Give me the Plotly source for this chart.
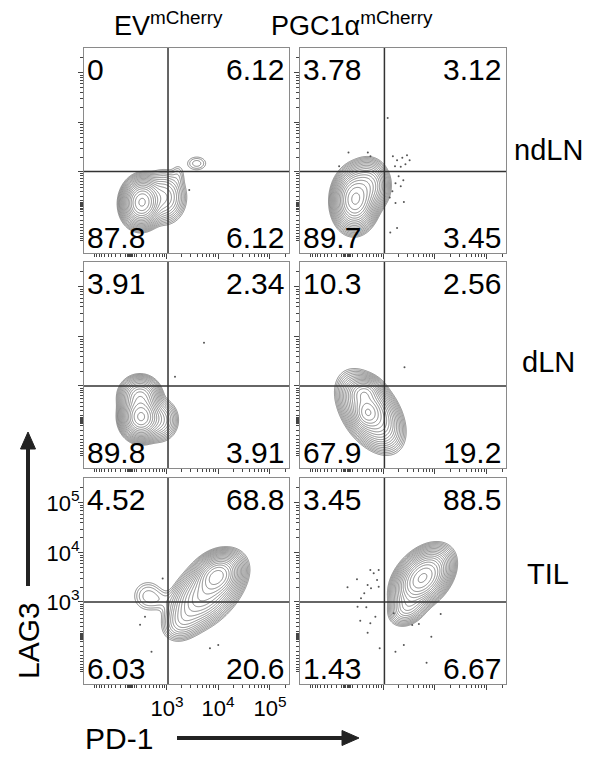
import numpy as np
import plotly.graph_objects as go

# ------------------------------------------------------------------ data
C = 210.0  # biexponential width parameter of the display


def biex(v):
    v = np.asarray(v, dtype=float)
    return np.log10(C) + np.arcsinh(v / (2 * C)) / np.log(10)


CONDITIONS = ["EV<sup>mCherry</sup>", "PGC1α<sup>mCherry</sup>"]
TISSUES = ["ndLN", "dLN", "TIL"]

# quadrant frequencies (%): [LAG3+PD-1-, LAG3+PD-1+, LAG3-PD-1-, LAG3-PD-1+]
FREQ_NDLN_EV = ["0", "6.12", "87.8", "6.12"]
FREQ_NDLN_PGC = ["3.78", "3.12", "89.7", "3.45"]
FREQ_DLN_EV = ["3.91", "2.34", "89.8", "3.91"]
FREQ_DLN_PGC = ["10.3", "2.56", "67.9", "19.2"]
FREQ_TIL_EV = ["4.52", "68.8", "6.03", "20.6"]
FREQ_TIL_PGC = ["3.45", "88.5", "1.43", "6.67"]

GATE_PD1 = 1050
GATE_LAG3 = 1000

TICK_MAJOR = [1e3, 1e4, 1e5]
TICK_LABELS = ["10<sup>3</sup>", "10<sup>4</sup>", "10<sup>5</sup>"]
TICK_LINEAR = [-1000, -900, -800, -700, -600, -500, -400, -300, -200, -100,
               100, 200, 300, 400, 500, 600, 700, 800, 900]
TICK_ZERO = [-60, -40, -20, 0, 20, 40, 60]
TICK_LOG_MINOR = [2e3, 3e3, 4e3, 5e3, 6e3, 7e3, 8e3, 9e3,
                  2e4, 3e4, 4e4, 5e4, 6e4, 7e4, 8e4, 9e4, 2e5]

# population components in display units:
# (PD-1 centre, LAG3 centre, PD-1 spread, LAG3 spread, correlation, relative height)
POP_NDLN_EV = [
    (2.537, 2.397, 0.144, 0.186, 0.05, 1.0),
    (2.960, 2.497, 0.173, 0.220, 0.0, 0.10),
    (3.230, 2.937, 0.077, 0.140, 0.0, 0.007),
    (3.590, 3.178, 0.135, 0.100, 0.0, 0.009),
]
POP_NDLN_PGC = [
    (2.479, 2.457, 0.154, 0.230, 0.05, 1.0),
    (2.729, 2.737, 0.154, 0.200, 0.0, 0.25),
]
POP_DLN_EV = [
    (2.518, 2.397, 0.144, 0.170, 0.0, 1.0),
    (2.499, 2.797, 0.154, 0.160, 0.0, 0.30),
    (2.864, 2.337, 0.154, 0.180, 0.0, 0.08),
]
POP_DLN_PGC = [
    (2.768, 2.497, 0.221, 0.280, -0.45, 0.5),
    (2.710, 2.477, 0.115, 0.140, 0.0, 0.5),
    (2.652, 2.877, 0.135, 0.120, 0.0, 0.3),
]
POP_TIL_EV = [
    (3.980, 3.538, 0.173, 0.170, 0.25, 1.0),
    (3.768, 3.198, 0.269, 0.280, 0.5, 0.40),
    (3.345, 2.657, 0.173, 0.180, 0.3, 0.05),
    (2.653, 3.138, 0.173, 0.180, 0.0, 0.012),
    (2.922, 3.058, 0.154, 0.120, 0.0, 0.005),
]
POP_TIL_PGC = [
    (3.768, 3.498, 0.202, 0.220, 0.4, 1.0),
    (3.499, 2.937, 0.154, 0.160, 0.3, 0.10),
]

# isolated events outside the lowest contour (display units)
DOTS_NDLN_EV_X = [3.447]
DOTS_NDLN_EV_Y = [2.643]
DOTS_NDLN_PGC_X = [3.10, 2.72, 3.20, 3.28, 3.38, 3.47, 3.52, 3.24, 3.35, 3.44, 3.31, 3.40,
                   3.25, 3.35, 3.19, 3.41, 3.25, 3.14, 3.28, 3.15, 2.17, 2.77, 2.35]
DOTS_NDLN_PGC_Y = [4.09, 3.40, 3.32, 3.24, 3.29, 3.34, 3.24, 3.12, 3.11, 3.16, 2.92, 2.84,
                   2.78, 2.72, 2.62, 2.40, 2.38, 2.49, 1.88, 1.79, 3.12, 3.32, 3.40]
DOTS_DLN_EV_X = [3.730, 3.172]
DOTS_DLN_EV_Y = [3.884, 3.204]
DOTS_DLN_PGC_X = [3.422]
DOTS_DLN_PGC_Y = [3.392]
DOTS_TIL_EV_X = [2.935, 2.595, 2.50, 2.72, 3.845, 4.005]
DOTS_TIL_EV_Y = [3.49, 2.72, 2.56, 2.02, 2.09, 2.157]
DOTS_TIL_PGC_X = [2.331, 2.512, 2.768, 2.832, 2.897, 2.716, 2.781, 2.928, 2.652, 2.589, 2.523,
                  2.691, 2.575, 2.768, 2.716, 2.947, 3.216, 3.249, 3.409, 3.570, 3.697, 3.936,
                  4.115, 3.845, 2.864, 2.928]
DOTS_TIL_PGC_Y = [3.312, 3.472, 3.658, 3.592, 3.458, 3.358, 3.292, 3.324, 3.192, 3.092, 2.924,
                  2.911, 2.643, 2.591, 2.403, 2.091, 2.791, 2.023, 2.157, 2.557, 2.577, 2.323,
                  2.777, 1.802, 2.723, 3.658]

PANELS = [
    (POP_NDLN_EV, DOTS_NDLN_EV_X, DOTS_NDLN_EV_Y, FREQ_NDLN_EV),
    (POP_NDLN_PGC, DOTS_NDLN_PGC_X, DOTS_NDLN_PGC_Y, FREQ_NDLN_PGC),
    (POP_DLN_EV, DOTS_DLN_EV_X, DOTS_DLN_EV_Y, FREQ_DLN_EV),
    (POP_DLN_PGC, DOTS_DLN_PGC_X, DOTS_DLN_PGC_Y, FREQ_DLN_PGC),
    (POP_TIL_EV, DOTS_TIL_EV_X, DOTS_TIL_EV_Y, FREQ_TIL_EV),
    (POP_TIL_PGC, DOTS_TIL_PGC_X, DOTS_TIL_PGC_Y, FREQ_TIL_PGC),
]

# ------------------------------------------------------------------ layout
W, H = 592, 757
FONT = "Liberation Sans, Arial, Helvetica, sans-serif"
COLS = [(84, 289), (300, 506)]
ROWS = [(48, 253), (262, 468), (478, 684)]
XR = [1.421, 5.366]
YR = [1.376, 5.50]
LEVEL_LO, LEVEL_HI, N_LEVELS = 0.004, 0.92, 18


def px(x):
    return x / W


def py(y):
    return 1 - y / H


gx = np.linspace(XR[0], XR[1], 340)
gy = np.linspace(YR[0], YR[1], 340)
GX, GY = np.meshgrid(gx, gy)

fig = go.Figure()
layout = dict(
    width=W, height=H, margin=dict(l=0, r=0, t=0, b=0),
    paper_bgcolor="white", plot_bgcolor="white", showlegend=False,
    font=dict(family=FONT, color="black"),
)
shapes, annotations = [], []

minor_vals = list(biex(TICK_LINEAR + TICK_ZERO + TICK_LOG_MINOR))
major_vals = list(biex(TICK_MAJOR))

for i, (pop, dxs, dys, freq) in enumerate(PANELS):
    r, c = divmod(i, 2)
    n = i + 1
    sfx = "" if n == 1 else str(n)
    xa, ya = "x" + sfx, "y" + sfx

    dens = np.zeros_like(GX)
    for cx, cy, sx, sy, rho, amp in pop:
        u = (GX - cx) / sx
        v = (GY - cy) / sy
        q = (u * u - 2 * rho * u * v + v * v) / (1 - rho * rho)
        dens += amp * np.exp(-0.5 * q)
    z = np.log10(dens + 1e-12)
    lo, hi = np.log10(LEVEL_LO), np.log10(LEVEL_HI)
    fig.add_trace(go.Contour(
        x=gx, y=gy, z=z, xaxis=xa, yaxis=ya, showscale=False,
        contours=dict(start=lo, end=hi, size=(hi - lo) / (N_LEVELS - 1), coloring="none"),
        line=dict(color="#6a6a6a", width=0.8), hoverinfo="skip",
    ))
    fig.add_trace(go.Scatter(
        x=dxs, y=dys, xaxis=xa, yaxis=ya, mode="markers",
        marker=dict(size=2, color="#555555"), hoverinfo="skip",
    ))

    show_lab = (r == 2 and c == 0)
    common = dict(
        showgrid=False, zeroline=False, showline=True, mirror=True,
        linecolor="#8a8a8a", linewidth=1, ticks="outside", ticklen=5,
        tickwidth=1, tickcolor="#444444", tickmode="array",
        tickvals=major_vals, ticktext=TICK_LABELS, showticklabels=show_lab,
        tickfont=dict(size=22, color="black", family=FONT), fixedrange=True,
        minor=dict(tickmode="array", tickvals=minor_vals, ticklen=3, tickwidth=1,
                   tickcolor="#444444", ticks="outside", showgrid=False),
    )
    layout["xaxis" + sfx] = dict(common, domain=[px(COLS[c][0]), px(COLS[c][1])],
                                 range=XR, anchor=ya)
    layout["yaxis" + sfx] = dict(common, domain=[py(ROWS[r][1]), py(ROWS[r][0])],
                                 range=YR, anchor=xa, ticklabelstandoff=-6)

    gxv, gyv = float(biex(GATE_PD1)), float(biex(GATE_LAG3))
    shapes.append(dict(type="line", xref=xa, yref=ya + " domain", x0=gxv, x1=gxv, y0=0, y1=1,
                       line=dict(color="#333333", width=1.5)))
    shapes.append(dict(type="line", xref=xa + " domain", yref=ya, x0=0, x1=1, y0=gyv, y1=gyv,
                       line=dict(color="#333333", width=1.5)))

    spots = [(0, 1, "left", "top", 1, -3), (1, 1, "right", "top", -3, -3),
             (0, 0, "left", "bottom", 1, -3), (1, 0, "right", "bottom", -3, -3)]
    for txt, (ax_, ay_, xan, yan, xs, ys) in zip(freq, spots):
        annotations.append(dict(
            text=txt, xref=xa + " domain", yref=ya + " domain", x=ax_, y=ay_,
            xanchor=xan, yanchor=yan, xshift=xs, yshift=ys, showarrow=False,
            font=dict(size=30, color="black", family=FONT)))

# column titles
for txt, xc in zip(CONDITIONS, [168, 352]):
    annotations.append(dict(text=txt, xref="paper", yref="paper", x=px(xc), y=py(24),
                            xanchor="center", yanchor="middle", showarrow=False,
                            font=dict(size=27, color="black", family=FONT)))
# row labels
for txt, yc in zip(TISSUES, [150, 362, 574]):
    annotations.append(dict(text=txt, xref="paper", yref="paper", x=px(548), y=py(yc),
                            xanchor="center", yanchor="middle", showarrow=False,
                            font=dict(size=29, color="black", family=FONT)))
# axis titles
annotations.append(dict(text="LAG3", xref="paper", yref="paper", x=px(28), y=py(641),
                        xanchor="center", yanchor="middle", textangle=-90, showarrow=False,
                        font=dict(size=30, color="black", family=FONT)))
annotations.append(dict(text="PD-1", xref="paper", yref="paper", x=px(119), y=py(738),
                        xanchor="center", yanchor="middle", showarrow=False,
                        font=dict(size=30, color="black", family=FONT)))

# axis arrows
shapes.append(dict(type="line", xref="paper", yref="paper", x0=px(28), x1=px(28),
                   y0=py(586), y1=py(446), line=dict(color="#222222", width=4)))
shapes.append(dict(type="path", xref="paper", yref="paper",
                   path=f"M {px(28)} {py(432)} L {px(20.5)} {py(449)} L {px(35.5)} {py(449)} Z",
                   fillcolor="#222222", line=dict(color="#222222", width=1)))
shapes.append(dict(type="line", xref="paper", yref="paper", x0=px(177), x1=px(345),
                   y0=py(738), y1=py(738), line=dict(color="#222222", width=4)))
shapes.append(dict(type="path", xref="paper", yref="paper",
                   path=f"M {px(359)} {py(738)} L {px(342)} {py(730.5)} L {px(342)} {py(745.5)} Z",
                   fillcolor="#222222", line=dict(color="#222222", width=1)))

layout["shapes"] = shapes
layout["annotations"] = annotations
fig.update_layout(**layout)
fig.write_html("out.html", config={"displayModeBar": False},
               post_script="document.body.style.margin='0px';document.body.style.overflow='hidden';")
